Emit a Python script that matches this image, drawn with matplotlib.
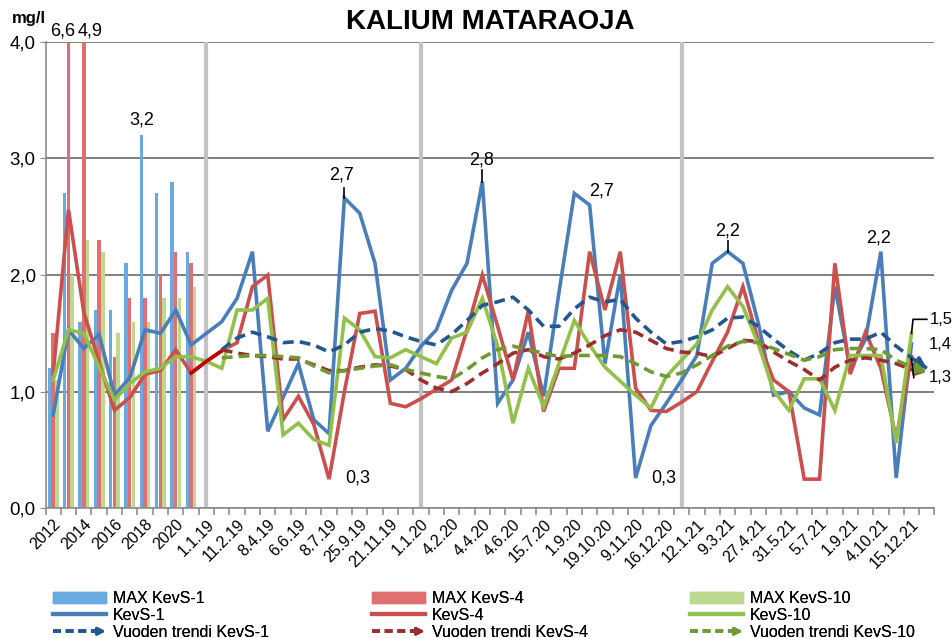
import matplotlib
matplotlib.use('Agg')
import matplotlib.pyplot as plt
import numpy as np
from matplotlib.lines import Line2D
from matplotlib.patches import Rectangle, FancyArrowPatch
from matplotlib.legend_handler import HandlerBase

plt.rcParams['font.family'] = ['Liberation Sans', 'DejaVu Sans']

nan = np.nan

# ---------------- data ----------------
tick_labels = ['2012', '2014', '2016', '2018', '2020', '1.1.19', '11.2.19', '8.4.19',
               '6.6.19', '8.7.19', '25.9.19', '21.11.19', '1.1.20', '4.2.20', '4.4.20',
               '4.6.20', '15.7.20', '1.9.20', '19.10.20', '9.11.20', '16.12.20', '12.1.21',
               '9.3.21', '27.4.21', '31.5.21', '5.7.21', '1.9.21', '4.10.21', '15.12.21']
n_categories = 58
year_start_lines = [10, 24, 41]

# annual maxima (2012-2021)
max_kevs1 = [1.2, 2.7, 1.6, 1.7, 1.7, 2.1, 3.2, 2.7, 2.8, 2.2]
max_kevs4 = [1.5, 6.6, 4.9, 2.3, 1.3, 1.8, 1.8, 2.0, 2.2, 2.1]
max_kevs10 = [1.1, 2.0, 2.3, 2.2, 1.5, 1.6, 1.6, 1.8, 1.8, 1.9]

kevs1 = [0.80, 1.53, 1.37, 1.49, 0.97, 1.12, 1.53, 1.50, 1.70, 1.40,
         1.50, 1.60, 1.80, 2.20, 0.66, 0.95, 1.24, 0.76, 0.64, 2.66,
         2.53, 2.10, 1.10, 1.20, 1.39, 1.53, 1.87, 2.10, 2.80, 0.90,
         1.10, 1.51, 0.96, 1.85, 2.70, 2.60, 1.24, 2.00, 0.26, 0.71,
         0.90, 1.10, 1.31, 2.10, 2.20, 2.10, 1.59, 0.97, 1.00, 0.86,
         0.80, 1.90, 1.20, 1.45, 2.20, 0.26, 1.41, nan]
kevs4 = [1.15, 2.56, 1.68, 1.25, 0.84, 0.95, 1.15, 1.18, 1.36, 1.16,
         1.26, 1.35, 1.42, 1.90, 2.00, 0.76, 0.96, 0.72, 0.25, 1.00,
         1.67, 1.69, 0.90, 0.87, 0.94, 1.02, 1.10, 1.53, 2.00, 1.56,
         1.10, 1.69, 0.83, 1.20, 1.20, 2.20, 1.70, 2.20, 1.03, 0.84,
         0.83, 0.91, 1.00, 1.26, 1.51, 1.90, 1.44, 1.10, 1.00, 0.25,
         0.25, 2.10, 1.15, 1.51, 1.20, 0.60, 1.30, nan]
kevs10 = [1.10, 1.53, 1.50, 1.21, 0.93, 1.07, 1.17, 1.20, 1.30, 1.30,
          1.26, 1.20, 1.70, 1.70, 1.80, 0.63, 0.73, 0.59, 0.54, 1.63,
          1.53, 1.30, 1.29, 1.36, 1.30, 1.24, 1.46, 1.51, 1.80, 1.39,
          0.73, 1.20, 0.87, 1.24, 1.61, 1.40, 1.21, 1.09, 0.97, 0.86,
          1.13, 1.27, 1.41, 1.70, 1.90, 1.73, 1.41, 1.01, 0.84, 1.11,
          1.11, 0.84, 1.31, 1.31, 1.31, 0.56, 1.50, nan]

# yearly trend (starting at category 11)
trend_start = 11
trend1 = [1.36, 1.46, 1.51, 1.47, 1.42, 1.43, 1.40, 1.34, 1.40, 1.51,
          1.54, 1.52, 1.47, 1.43, 1.40, 1.49, 1.61, 1.74, 1.77, 1.81,
          1.70, 1.56, 1.56, 1.71, 1.81, 1.77, 1.79, 1.63, 1.51, 1.41,
          1.43, 1.47, 1.53, 1.63, 1.64, 1.56, 1.45, 1.35, 1.27, 1.33,
          1.42, 1.45, 1.45, 1.51, 1.39, 1.29, 1.20]
trend4 = [1.36, 1.33, 1.31, 1.30, 1.28, 1.28, 1.23, 1.18, 1.18, 1.21,
          1.23, 1.22, 1.19, 1.10, 1.03, 1.00, 1.07, 1.16, 1.24, 1.33,
          1.36, 1.30, 1.28, 1.33, 1.40, 1.48, 1.53, 1.51, 1.44, 1.37,
          1.34, 1.33, 1.30, 1.37, 1.44, 1.43, 1.34, 1.26, 1.19, 1.10,
          1.21, 1.27, 1.29, 1.27, 1.24, 1.19, 1.17]
trend10 = [1.29, 1.30, 1.31, 1.31, 1.30, 1.29, 1.22, 1.16, 1.18, 1.20,
           1.22, 1.23, 1.19, 1.16, 1.13, 1.11, 1.19, 1.29, 1.36, 1.39,
           1.36, 1.33, 1.30, 1.31, 1.31, 1.31, 1.30, 1.24, 1.17, 1.13,
           1.16, 1.23, 1.31, 1.39, 1.43, 1.42, 1.37, 1.32, 1.27, 1.30,
           1.36, 1.37, 1.37, 1.36, 1.27, 1.21, 1.17]

# ---------------- styles ----------------
c_bar1, c_bar4, c_bar10 = '#6AAAE0', '#E07070', '#BDD88F'
c_l1, c_l4, c_l10 = '#4A7EBB', '#C9504D', '#92C04A'
c_t1, c_t4, c_t10 = '#22578F', '#9B2F2D', '#6F9A34'

fig = plt.figure(figsize=(9.53, 6.38), dpi=100)
ax = fig.add_axes([45.5 / 953, 1 - 508.3 / 638, 889 / 953, 466.6 / 638])

x_all = np.arange(n_categories)
x_years = np.arange(len(max_kevs1))
bw = 0.22
off = 0.24
ax.bar(x_years - off, max_kevs1, width=bw, color=c_bar1, zorder=2)
ax.bar(x_years, max_kevs4, width=bw, color=c_bar4, zorder=2)
ax.bar(x_years + off, max_kevs10, width=bw, color=c_bar10, zorder=2)

lw = 2.6
ax.plot(x_all, kevs1, color=c_l1, lw=lw, zorder=4, solid_joinstyle='miter')
ax.plot(x_all, kevs4, color=c_l4, lw=lw, zorder=4, solid_joinstyle='miter')
ax.plot(x_all, kevs10, color=c_l10, lw=lw, zorder=4, solid_joinstyle='miter')
# bridging red segment between annual values and sample values
ax.plot(x_all[9:12], kevs4[9:12], color='#C00000', lw=lw, zorder=4.5)

x_tr = np.arange(trend_start, trend_start + len(trend1))
for tr, c in [(trend1, c_t1), (trend4, c_t4), (trend10, c_t10)]:
    ax.plot(x_tr, tr, color=c, lw=lw, dashes=(3, 1.7), zorder=5)
    xa = x_tr[-2] + 0.5 * (x_tr[-1] - x_tr[-2])
    ya = tr[-2] + 0.5 * (tr[-1] - tr[-2])
    ax.annotate('', xy=(x_tr[-1], tr[-1]), xytext=(xa, ya),
                arrowprops=dict(arrowstyle='-|>', color=c, lw=lw,
                                mutation_scale=15, shrinkA=0, shrinkB=0),
                zorder=5)

# axes styling
ax.set_xlim(-0.5, n_categories - 0.5)
ax.set_ylim(0, 4)
for xv in year_start_lines:
    ax.axvline(xv, color='#C3C3C3', lw=3, zorder=1)
ax.set_yticks([0, 1, 2, 3, 4])
ax.set_yticklabels(['0,0', '1,0', '2,0', '3,0', '4,0'], fontsize=13.5)
ax.yaxis.grid(True, color='#7F7F7F', lw=1.4, zorder=1)
ax.set_axisbelow(True)
for s in ['top', 'right']:
    ax.spines[s].set_visible(False)
for s in ['left', 'bottom']:
    ax.spines[s].set_color('#8C8C8C')
    ax.spines[s].set_linewidth(1.2)
ax.tick_params(axis='y', length=4, color='#8C8C8C', pad=3)
ax.set_xticks(np.arange(0, n_categories, 2))
ax.set_xticklabels(tick_labels, rotation=45, ha='right', va='top',
                   rotation_mode='anchor', fontsize=11.5)
ax.tick_params(axis='x', which='major', length=0, pad=6)
ax.set_xticks(np.arange(-0.5, n_categories, 1), minor=True)
ax.tick_params(axis='x', which='minor', length=5, color='#8C8C8C', width=1.2)

# data labels
fs = 13
def label(x, y, s, ha='center', size=fs):
    ax.text(x, y, s, fontsize=size, ha=ha, va='center', clip_on=False, zorder=6)

label(0.65, 4.09, '6,6')
label(2.4, 4.09, '4,9')
label(5.75, 3.33, '3,2')
label(18.8, 2.86, '2,7')
ax.plot([19.0, 19.0], [2.66, 2.75], color='black', lw=1.2, zorder=6)
label(19.9, 0.26, '0,3')
label(27.95, 2.99, '2,8')
ax.plot([28.0, 28.0], [2.8, 2.9], color='black', lw=1.2, zorder=6)
label(35.8, 2.72, '2,7')
label(39.85, 0.26, '0,3')
label(44.0, 2.38, '2,2')
ax.plot([44.0, 44.0], [2.2, 2.29], color='black', lw=1.2, zorder=6)
label(53.85, 2.32, '2,2')
label(57.2, 1.62, '1,5', ha='left', size=12)
ax.plot([56.0, 56.1, 57.0], [1.5, 1.62, 1.62], color='black', lw=1.2, zorder=6, clip_on=False)
label(57.1, 1.4, '1,4', ha='left', size=12)
label(57.1, 1.12, '1,3', ha='left', size=12)
ax.plot([56.0, 56.15], [1.28, 1.12], color='black', lw=1.2, zorder=6)

fig.text(0.514, 1 - 22 / 638, 'KALIUM MATARAOJA', fontsize=20, weight='bold',
         ha='center', va='center')
fig.text(12 / 953, 1 - 19 / 638, 'mg/l', fontsize=12, weight='bold', ha='left', va='center')

# legend
class HandlerArrow(HandlerBase):
    def create_artists(self, legend, orig_handle, xdescent, ydescent, width, height,
                       fontsize, trans):
        y = height / 2 - ydescent
        x0 = -xdescent
        x1 = width - xdescent
        c = orig_handle.get_color()
        ln = Line2D([x0, x1 - 5], [y, y], color=c, lw=2.6, dashes=(2.2, 1.3),
                    transform=trans)
        ar = FancyArrowPatch((x1 - 9, y), (x1, y), arrowstyle='-|>', mutation_scale=11,
                             color=c, lw=2.0, transform=trans, shrinkA=0, shrinkB=0)
        return [ln, ar]

legend_font = ['Liberation Sans Narrow', 'Liberation Sans', 'DejaVu Sans']
cols = [('KevS-1', c_bar1, c_l1, c_t1, 53),
        ('KevS-4', c_bar4, c_l4, c_t4, 372),
        ('KevS-10', c_bar10, c_l10, c_t10, 690)]
for name, cb, cl, ct, xpx in cols:
    h_bar = Rectangle((0, 0), 1, 1, color=cb)
    h_line = Line2D([], [], color=cl, lw=3)
    h_tr = Line2D([], [], color=ct, lw=2.6)
    lg = fig.legend([h_bar, h_line, h_tr],
                    ['MAX ' + name, name, 'Vuoden trendi ' + name],
                    loc='upper left', bbox_to_anchor=(xpx / 953, 1 - 591 / 638),
                    frameon=False, borderpad=0, borderaxespad=0, handlelength=3.3,
                    handleheight=0.75, handletextpad=0.45, labelspacing=0.12,
                    prop={'family': legend_font, 'size': 11.5},
                    handler_map={h_tr: HandlerArrow()})
    fig.add_artist(lg)

fig.savefig('out.png', dpi=100)
